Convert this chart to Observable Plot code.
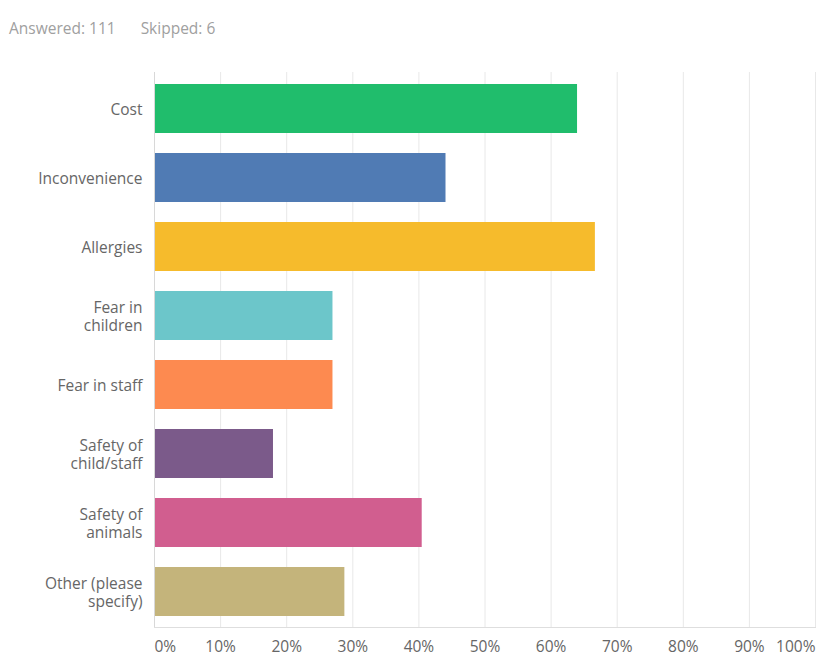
<!DOCTYPE html>
<html><head><meta charset="utf-8">
<script src="https://cdn.jsdelivr.net/npm/d3@7"></script>
<script src="https://cdn.jsdelivr.net/npm/@observablehq/plot@0.6"></script>
<style>
body{margin:0;background:#fff;font-family:"Open Sans",sans-serif;}
#head{height:50px;box-sizing:border-box;padding:17px 0 0 9px;font-size:15.5px;color:#a0a0a0;}
#head span{margin-right:25px}
</style></head><body>
<div id="head"><span>Answered: 111</span><span>Skipped: 6</span></div>
<div id="chart"></div>
<script>
const categories = ["Cost","Inconvenience","Allergies","Fear in children","Fear in staff","Safety of child/staff","Safety of animals","Other (please specify)"];
const labels = ["Cost","Inconvenience","Allergies","Fear in\nchildren","Fear in staff","Safety of\nchild/staff","Safety of\nanimals","Other (please\nspecify)"];
const percents = [0.640, 0.441, 0.667, 0.270, 0.270, 0.180, 0.405, 0.288];
const colors = ["#20bd6c","#507bb4","#f6bb2c","#6cc6ca","#fd8a50","#7b5a8a","#d15e8f","#c4b47b"];
const ticks = [0,0.1,0.2,0.3,0.4,0.5,0.6,0.7,0.8,0.9,1];
const tickLabels = ["0%","10%","20%","30%","40%","50%","60%","70%","80%","90%","100%"];

const data = categories.map((c,i)=>({category:c, value:percents[i]}));
const labelOf = new Map(categories.map((c,i)=>[c,labels[i]]));
const tickLabelOf = new Map(ticks.map((t,i)=>[t,tickLabels[i]]));
const axisCommon = {tickSize:0, tickPadding:13, fill:"#666", fontSize:15.5, label:null, tickFormat:d=>tickLabelOf.get(d)};

const chart = Plot.plot({
  width:816, height:606,
  marginLeft:154, marginRight:1, marginTop:22, marginBottom:29,
  x:{domain:[0,1], label:null},
  y:{domain:categories, paddingInner:0.29, paddingOuter:0.145, label:null},
  color:{domain:categories, range:colors},
  style:{fontFamily:"Open Sans, sans-serif", fontSize:"15.5px", color:"#666", background:"#fff"},
  marks:[
    Plot.gridX(ticks.slice(1), {stroke:"#e8e8e8", strokeOpacity:1}),
    Plot.frame({anchor:"bottom", stroke:"#dedede"}),
    Plot.barX(data, {x:"value", y:"category", fill:"category"}),
    Plot.ruleX([0], {stroke:"#d8d8d8"}),
    Plot.axisY({tickSize:0, tickPadding:12, fill:"#666", label:null, lineHeight:1.2, tickFormat:d=>labelOf.get(d)}),
    Plot.axisX([ticks[0]], {...axisCommon, textAnchor:"start"}),
    Plot.axisX(ticks.slice(1,-1), {...axisCommon}),
    Plot.axisX([ticks[ticks.length-1]], {...axisCommon, textAnchor:"end"})
  ]
});
document.getElementById("chart").append(chart);
</script>
</body></html>
